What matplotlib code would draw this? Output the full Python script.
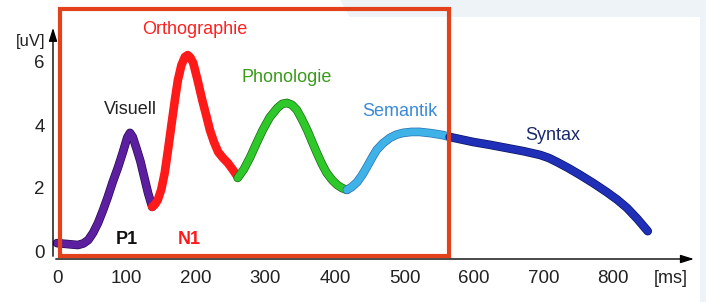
import matplotlib
matplotlib.use('Agg')
from matplotlib import pyplot as plt
from matplotlib.patches import Rectangle, Polygon
import matplotlib.patheffects as pe

# ERP components (time in ms, amplitude in uV)
visuell_t = [0, 30, 38, 45, 52, 59, 66, 73, 80, 88, 95, 101, 105, 109, 115, 120, 124, 131, 137]
visuell_v = [0.25, 0.19, 0.24, 0.35, 0.58, 0.89, 1.28, 1.71, 2.18, 2.67, 3.15, 3.60, 3.75, 3.62, 3.21, 2.85, 2.48, 1.84, 1.40]

ortho_t = [137, 141, 145, 150, 155, 160, 165, 170, 174, 179, 184, 188, 192, 196, 202, 209, 215, 220, 226, 232, 239, 246, 253, 260]
ortho_v = [1.40, 1.48, 1.62, 1.95, 2.48, 3.25, 4.06, 4.85, 5.43, 5.90, 6.16, 6.22, 6.14, 5.97, 5.45, 4.79, 4.28, 3.84, 3.45, 3.14, 2.95, 2.79, 2.58, 2.35]

phono_t = [260, 269, 278, 287, 296, 306, 317, 324, 331, 338, 345, 352, 360, 367, 374, 381, 388, 396, 403, 410, 417]
phono_v = [2.32, 2.60, 2.98, 3.42, 3.84, 4.24, 4.54, 4.67, 4.70, 4.64, 4.48, 4.20, 3.84, 3.47, 3.11, 2.77, 2.48, 2.25, 2.10, 2.00, 1.94]

sem_t = [417, 424, 432, 439, 446, 453, 460, 469, 479, 488, 498, 510, 522, 538, 555, 565]
sem_v = [1.94, 2.03, 2.19, 2.41, 2.67, 2.95, 3.21, 3.42, 3.59, 3.69, 3.75, 3.78, 3.78, 3.74, 3.68, 3.62]

syn_t = [565, 582, 599, 623, 647, 671, 695, 708, 719, 736, 753, 772, 791, 806, 820, 835, 850]
syn_v = [3.62, 3.54, 3.46, 3.37, 3.27, 3.17, 3.05, 2.95, 2.83, 2.63, 2.41, 2.15, 1.87, 1.63, 1.37, 1.02, 0.63]

xticks = [0, 100, 200, 300, 400, 500, 600, 700, 800]
yticks = [0, 2, 4, 6]

W, H = 706, 302
fig = plt.figure(figsize=(W / 100, H / 100), dpi=100)
fig.patch.set_facecolor('white')

# light page background at top right / right edge
bg = '#eef3f7'
fig.patches.append(Polygon([(340 / W, 1), (1, 1), (1, 0), (700 / W, 0), (700 / W, 1 - 17 / H), (350 / W, 1 - 17 / H)],
                           closed=True, transform=fig.transFigure, facecolor=bg, edgecolor='none', zorder=0))

left, right, bottom, top = 53, 700, 259, 25
ax = fig.add_axes([left / W, 1 - bottom / H, (right - left) / W, (bottom - top) / H])
ax.set_facecolor('none')
ax.set_xlim((left - 57) / 0.695, (right - 57) / 0.695)
ax.set_ylim((251 - bottom) / 31.5, (251 - top) / 31.5)

for s in ax.spines.values():
    s.set_visible(False)
ax.annotate('', xy=(0, 1), xytext=(0, 0), xycoords='axes fraction',
            arrowprops=dict(arrowstyle='-|>,head_length=0.8,head_width=0.25', color='black', lw=1))
ax.annotate('', xy=(0.995, 0), xytext=(0, 0), xycoords='axes fraction',
            arrowprops=dict(arrowstyle='-|>,head_length=0.8,head_width=0.25', color='black', lw=1))

font = 'Liberation Sans'
ax.set_xticks(xticks)
ax.set_yticks(yticks)
ax.tick_params(length=0, labelsize=13.5, colors='#222222')
ax.tick_params(axis='x', pad=8)
ax.tick_params(axis='y', pad=6)
for lab in ax.get_xticklabels() + ax.get_yticklabels():
    lab.set_family(font)

ax.text(-0.012, 0.93, '[uV]', transform=ax.transAxes, ha='right', va='center',
        fontsize=12, family=font, color='#222222')
ax.text(0.955, -0.085, '[ms]', transform=ax.transAxes, ha='center', va='center',
        fontsize=13, family=font, color='#222222')

segs = [
    (visuell_t, visuell_v, '#5b1fa0', '#2a0a50'),
    (ortho_t, ortho_v, '#ff1a1a', '#ff1a1a'),
    (phono_t, phono_v, '#2ec82a', '#1a6a10'),
    (sem_t, sem_v, '#3fb2e8', '#2a70b0'),
    (syn_t, syn_v, '#1f2fb8', '#0a1560'),
]
for t, v, c, ec in segs:
    ax.plot(t, v, color=c, lw=5.2, solid_capstyle='round', solid_joinstyle='round',
            path_effects=[pe.Stroke(linewidth=6.2, foreground=ec), pe.Normal()])

labels = [
    ('Visuell', 130, 110, '#222222', 'normal'),
    ('Orthographie', 195, 30, '#ff2020', 'normal'),
    ('Phonologie', 287, 78, '#3a9a1a', 'normal'),
    ('Semantik', 400, 112, '#3a8ad8', 'normal'),
    ('Syntax', 553, 135, '#1a2a6a', 'normal'),
    ('P1', 127, 239, '#111111', 'bold'),
    ('N1', 189, 239, '#ff1a1a', 'bold'),
]
for s, px, py, c, w in labels:
    ax.text((px - 57) / 0.695, (251 - py) / 31.5, s, ha='center', va='center',
            fontsize=13, family=font, color=c, fontweight=w)

# red highlight frame
fig.patches.append(Rectangle((60 / W, 1 - 256 / H), (449 - 60) / W, (256 - 9) / H,
                             transform=fig.transFigure, fill=False, edgecolor='#e2411c', lw=3, zorder=5))

fig.savefig('out.png', dpi=100)
